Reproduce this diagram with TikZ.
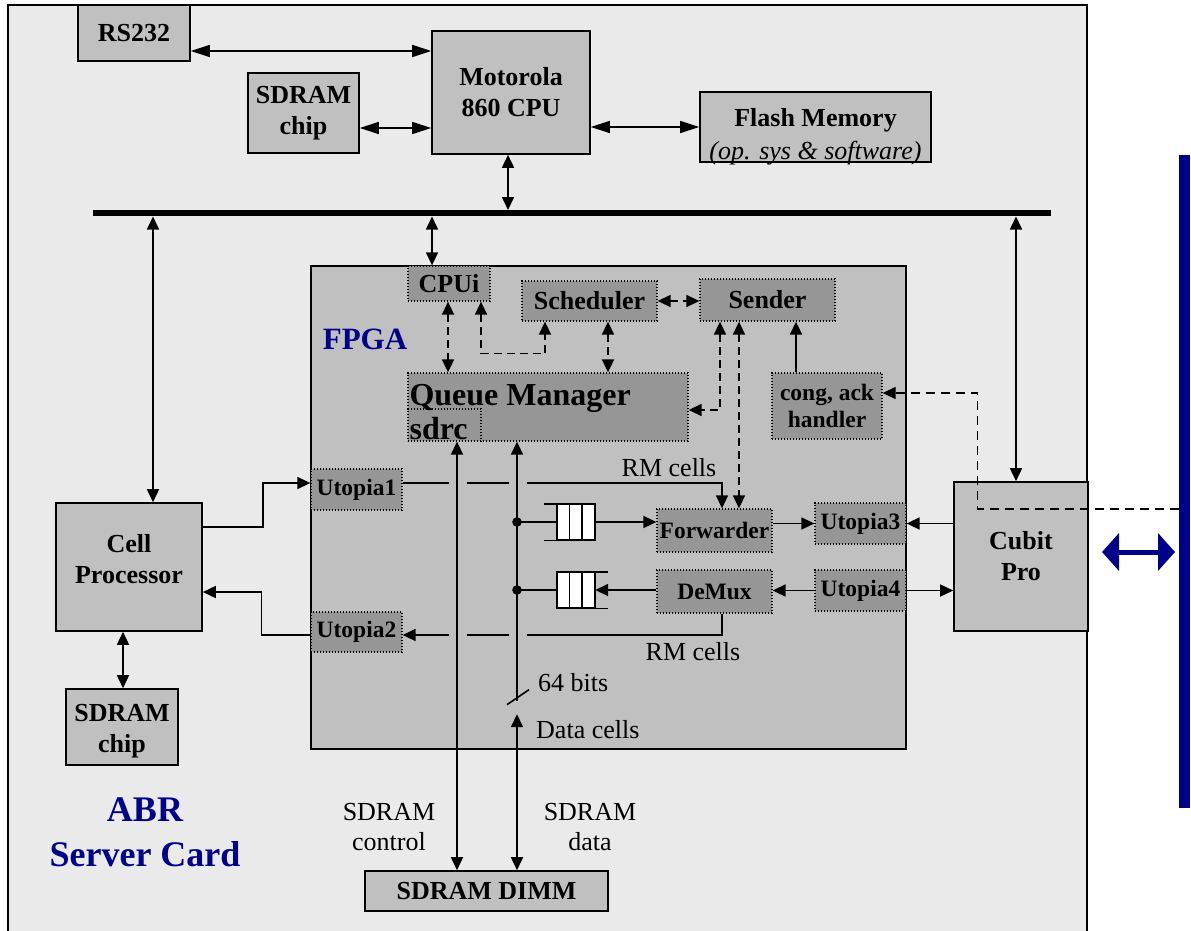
\documentclass[tikz,border=0pt]{standalone}
\usepackage{fontspec}
\setmainfont{Liberation Serif}
\usepackage{tikz}
\usetikzlibrary{arrows.meta, positioning, calc}
\usepackage{xcolor}
\definecolor{cardgray}{RGB}{234, 234, 234}
\definecolor{boxgray}{RGB}{192, 192, 192}
\definecolor{subgray}{RGB}{150, 150, 150}
\definecolor{abrblue}{RGB}{0, 0, 139}
\newcommand{\cardfont}{\fontsize{26}{31}\selectfont\bfseries}
\newcommand{\subfont}{\fontsize{23.5}{27}\selectfont\bfseries}
\newcommand{\txtfont}{\fontsize{26}{30}\selectfont}
\newcommand{\qmfont}{\fontsize{32}{36}\selectfont\bfseries}
\newcommand{\fpgafont}{\fontsize{31}{36}\selectfont\bfseries}
\newcommand{\ttlfont}{\fontsize{36}{45}\selectfont\bfseries}

\begin{document}
\begin{tikzpicture}[x=1pt, y=-1pt,
  blk/.style={draw, line width=1.6pt, fill=boxgray, align=center, font=\cardfont, inner sep=0pt},
  sub/.style={draw, line width=1.3pt, dash pattern=on 1.3pt off 1.7pt, fill=subgray,
              align=center, font=\subfont, inner sep=0pt},
  lbl/.style={font=\txtfont, align=center, inner sep=0pt},
  ttl/.style={font=\ttlfont, text=abrblue, align=center, inner sep=0pt},
  qbox/.style={minimum width=38pt, minimum height=36pt, inner sep=0pt},
  wire/.style={line width=1.6pt},
  arr/.style={-{Triangle[length=13pt, width=12pt]}, line width=1.6pt},
  biarr/.style={{Triangle[length=13pt, width=12pt]}-{Triangle[length=13pt, width=12pt]}, line width=1.6pt},
  biarrL/.style={{Triangle[length=19pt, width=12pt]}-{Triangle[length=19pt, width=12pt]}, line width=1.6pt},
  dbiarr/.style={biarr, dash pattern=on 8pt off 5pt},
  darr/.style={arr, line width=1.3pt, dash pattern=on 9pt off 6pt}
]
  \path[use as bounding box] (0,0) rectangle (1191,931);
  \clip (0,0) rectangle (1191,931);

  % board and link
  \draw[line width=1.5pt, fill=cardgray] (8,5) rectangle (1087,945);
  \node[fill=abrblue, minimum width=11pt, minimum height=653pt, inner sep=0pt] (bar) at (1184.5,481.5) {};

  % processor side
  \node[blk, minimum width=112pt, minimum height=56pt] (rs) at (134,33) {RS232};
  \node[blk, minimum width=111pt, minimum height=80pt] (sdtop) at (303.5,113) {SDRAM\\chip};
  \node[blk, minimum width=158pt, minimum height=123pt] (cpu) at (511,92.5) {Motorola\\860 CPU};
  \node[blk, minimum width=231pt, minimum height=70pt] (flash) at (815.5,127) {};
  \node[font=\cardfont, align=center, inner sep=0pt] (flashtxt) at ([yshift=-10pt]flash.center)
    {Flash Memory\\[2pt]\mdseries\itshape (op. sys \& software)};

  \draw[biarrL] ([yshift=-18pt]rs.east) coordinate (rsx) -- (rsx -| cpu.west);
  \draw[biarrL] ([yshift=-15pt]sdtop.east) coordinate (sdx) -- (sdx -| cpu.west);
  \draw[biarrL] (flash.west -| cpu.east) -- (flash.west);

  % bus
  \coordinate (busW) at (93,213);
  \coordinate (busE) at (1051,213);
  \coordinate (busT) at (0,210);
  \coordinate (busB) at (0,216.5);
  \draw[line width=6pt] (busW) -- (busE);
  \draw[biarr] ([xshift=-3pt]cpu.south) coordinate (cpux) -- (cpux |- busT);

  % FPGA
  \node[draw, line width=1.3pt, fill=boxgray, minimum width=595pt, minimum height=483pt] (fpga) at (608.5,507.5) {};
  \node[ttl, font=\fpgafont] (fpgalbl) at (365,339) {FPGA};

  \node[sub, font=\cardfont, minimum width=82pt, minimum height=35pt] (cpui) at (449,283.5) {CPUi};
  \node[sub, font=\cardfont, minimum width=135pt, minimum height=40pt] (sched) at (589.5,301) {Scheduler};
  \node[sub, font=\cardfont, minimum width=135pt, minimum height=42pt] (sender) at (767.5,300) {Sender};
  \node[sub, minimum width=280pt, minimum height=68pt] (qm) at (548,407) {};
  \node[sub, minimum width=73pt, minimum height=32pt] (sdrc) at (444.5,425) {};
  \node[anchor=base west, inner sep=0pt, font=\qmfont] (qmtxt) at ([xshift=2pt, yshift=-33pt]qm.north west) {Queue Manager};
  \node[anchor=base west, inner sep=0pt, font=\qmfont] (sdrctxt) at ([xshift=2pt, yshift=2pt]sdrc.south west) {sdrc};
  \node[sub, minimum width=110pt, minimum height=66pt] (cong) at (827,406) {cong, ack\\handler};
  \node[sub, minimum width=91pt, minimum height=41pt] (utop1) at (356.5,489.5) {Utopia1};
  \node[sub, minimum width=91pt, minimum height=40pt] (utop2) at (356.5,632) {Utopia2};
  \node[sub, minimum width=115pt, minimum height=43pt] (fwd) at (714.5,530.5) {Forwarder};
  \node[sub, minimum width=115pt, minimum height=43pt] (demux) at (714.5,591.5) {DeMux};
  \node[sub, minimum width=91pt, minimum height=41pt] (utop3) at (860.5,523.5) {Utopia3};
  \node[sub, minimum width=91pt, minimum height=41pt] (utop4) at (860.5,590.5) {Utopia4};

  % line side and memory
  \node[blk, minimum width=134pt, minimum height=149pt] (cubit) at (1021,556.5) {Cubit\\Pro};
  \node[blk, minimum width=146pt, minimum height=128pt] (cellp) at (129,567) {};
  \node[font=\cardfont, align=center, inner sep=0pt] (celltxt) at ([yshift=8pt]cellp.center) {Cell\\Processor};
  \node[blk, minimum width=112pt, minimum height=76pt] (sdbot) at (122,727) {};
  \node[font=\cardfont, align=center, inner sep=0pt] (sdbottxt) at ([yshift=-4pt]sdbot.center) {SDRAM\\chip};
  \node[blk, minimum width=243pt, minimum height=40pt] (dimm) at (486.5,891) {SDRAM DIMM};

  % bus drops
  \draw[biarr] ([xshift=24pt]cellp.north) coordinate (cpx) -- (cpx |- busB);
  \draw[biarr] ([xshift=-17pt]cpui.north) coordinate (cix) -- (cix |- busB);
  \draw[biarr] ([xshift=-5pt]cubit.north) coordinate (cbx) -- (cbx |- busB);

  % control paths
  \draw[dbiarr] ([xshift=-1pt]cpui.south) coordinate (qmx) -- (qmx |- qm.north);
  \draw[dbiarr] ([xshift=32pt]cpui.south) -- ++(0,52) -| ([xshift=-44.5pt]sched.south);
  \draw[dbiarr] ([xshift=18.5pt]sched.south) coordinate (scx) -- (scx |- qm.north);
  \draw[dbiarr] (sched.east) -- (sched.east -| sender.west);
  \draw[dbiarr] ([xshift=-47.5pt]sender.south) |- ([yshift=-3pt]qm.east);
  \draw[dbiarr] ([xshift=-28.5pt]sender.south) coordinate (sfx) -- (sfx |- fwd.north);
  \draw[arr] ([xshift=-31pt]cong.north) coordinate (cgx) -- (cgx |- sender.south);
  \draw[darr] ([yshift=-27.5pt]bar.west) -- ++(-201,0) |- ([yshift=13pt]cong.east);

  % cell paths
  \draw[arr] ([yshift=40pt]cellp.east) -- ++(60,0) |- ([yshift=6.5pt]utop1.west);
  \draw[arr] ([yshift=-3pt]utop2.west) -- ++(-49,0) |- ([yshift=-25pt]cellp.east);
  \draw[biarr] ([xshift=-6pt]cellp.south) coordinate (cbt) -- (cbt |- sdbot.north);
  \draw[arr] ([yshift=6.5pt]utop1.east) -| ([xshift=7.5pt]fwd.north);
  \draw[arr] ([xshift=7.5pt]demux.south) |- ([yshift=-3pt]utop2.east);
  \node[lbl] (rm1) at (669,468) {RM cells};
  \node[lbl] (rm2) at (693,652) {RM cells};

  % line hops
  \foreach \gx in {449,509} {
    \fill[boxgray] (\gx,478) rectangle ++(17.5,10);
    \fill[boxgray] (\gx,630) rectangle ++(17.5,10);
  }

  % queues
  \node[qbox] (q1) at (576,522) {};
  \node[qbox] (q2) at (576,590) {};
  \foreach \q in {q1,q2}
    \foreach \i in {0,1,2}
      \draw[fill=white, line width=1.4pt] ([xshift=\i*12.667pt]\q.north west) rectangle ++(12.667,36);
  \draw[line width=1.4pt] (q1.north west) -- ++(-13,0);
  \draw[line width=1.4pt] (q1.south west) -- ++(-13,0);
  \draw[line width=1.4pt] (q2.north east) -- ++(13,0);
  \draw[line width=1.4pt] (q2.south east) -- ++(13,0);
  \coordinate (dot1) at (517,522);
  \coordinate (dot2) at (517,590);
  \draw[wire] (dot1) -- (q1.west);
  \draw[wire] (q2.west) -- (dot2);
  \fill (dot1) circle (4.8);
  \fill (dot2) circle (4.8);
  \draw[arr] (q1.east) -- (q1.east -| fwd.west);
  \draw[arr] (q2.east -| demux.west) -- (q2.east);
  \draw[arr] (utop3.west -| fwd.east) -- (utop3.west);
  \draw[arr] (utop3.east -| cubit.west) -- (utop3.east);
  \draw[arr] (utop4.west) -- (utop4.west -| demux.east);
  \draw[arr] (utop4.east) -- (utop4.east -| cubit.west);

  % memory paths
  \draw[biarr] ([xshift=12.5pt]sdrc.south) coordinate (ctl) -- (ctl |- dimm.north);
  \draw[arr] ([xshift=-31pt, yshift=-259pt]qm.south) -- ([xshift=-31pt]qm.south);
  \draw[biarr] ([xshift=30.5pt]dimm.north) -- ++(0,-156);
  \draw[wire] ([xshift=-41pt, yshift=-263pt]qm.south) -- ++(22,-15);
  \node[lbl, anchor=west] (bits) at (538,683) {64 bits};
  \node[lbl, anchor=west] (dcells) at (536,730) {Data cells};
  \node[lbl] (ctllbl) at (389,827) {SDRAM\\control};
  \node[lbl] (datlbl) at (590,827) {SDRAM\\data};

  % titles and link arrow
  \node[ttl] (card) at (145,832) {ABR\\Server Card};
  \coordinate (lnkL) at (1102,552);
  \coordinate (lnkR) at (1175,552);
  \draw[line width=5pt, abrblue, {Triangle[length=17pt, width=37pt]}-{Triangle[length=17pt, width=37pt]}] (lnkL) -- (lnkR);
\end{tikzpicture}
\end{document}
